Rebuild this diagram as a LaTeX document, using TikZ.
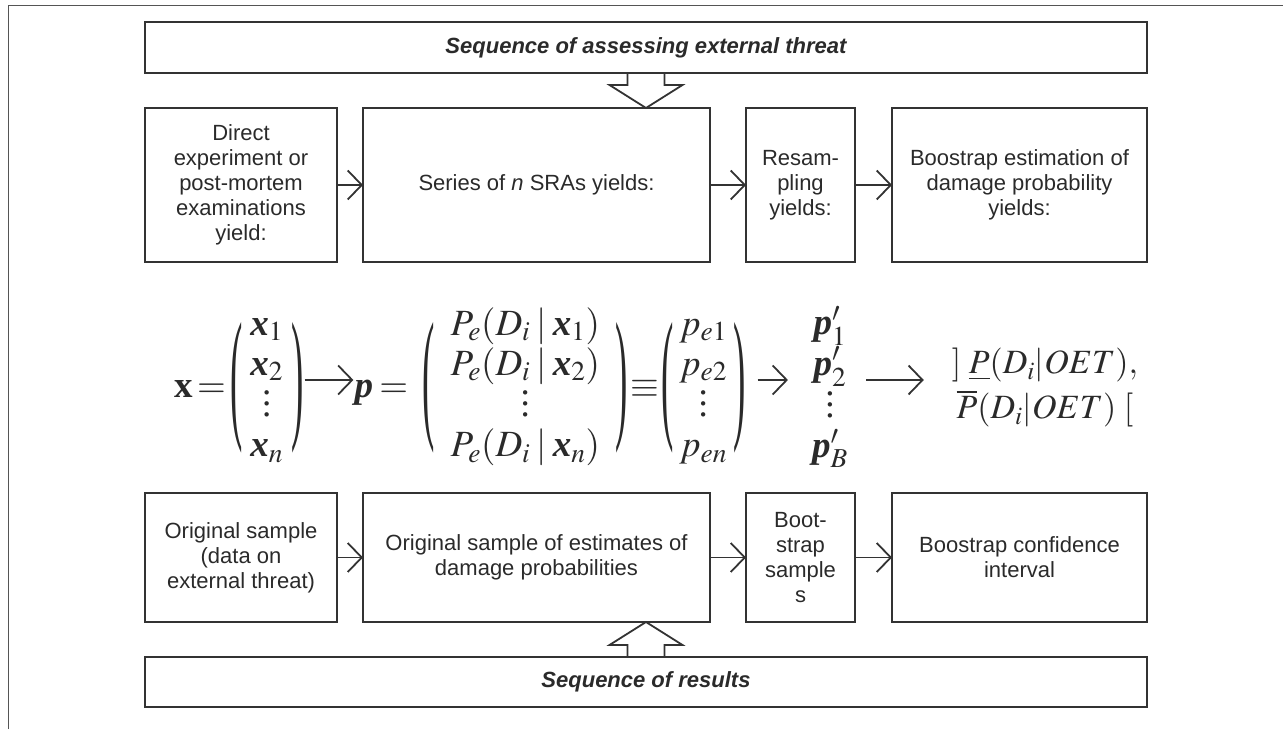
\documentclass[tikz,border=0pt]{standalone}
\usepackage{amsmath}
\usepackage{mathptmx}
\usepackage{graphicx}
\usepackage{fontspec}
\setmainfont{Liberation Serif}
\setsansfont{Liberation Sans}
\usepackage{xcolor}
\definecolor{diaInk}{HTML}{2A2A2A}
\definecolor{diaLine}{HTML}{333333}
\definecolor{diaFrame}{HTML}{555555}
\usetikzlibrary{arrows.meta,positioning,calc}
\newcommand{\bsym}[1]{\mbox{\bfseries\itshape #1}}
\newcommand{\tallvdots}{\vbox{\baselineskip=11pt \lineskiplimit=0pt \kern4pt\hbox{.}\hbox{.}\hbox{.}}}
\newcommand{\lpar}{\vcenter{\hbox{\raisebox{8pt}{\scalebox{1}[3.9]{(}}}}}
\newcommand{\rpar}{\vcenter{\hbox{\raisebox{8pt}{\scalebox{1}[3.9]{)}}}}}
\tikzset{
    block/.style={
        draw=diaLine,
        rectangle,
        line width=1.8pt,
        align=center,
        inner sep=0pt,
        outer sep=0pt,
        text=diaInk,
        font=\sffamily\fontsize{22}{25}\selectfont
    },
    rowbox/.style={
        block,
        minimum height=154pt
    },
    resbox/.style={
        block,
        minimum height=129pt
    },
    banner/.style={
        block,
        minimum width=1002pt,
        minimum height=51pt,
        font=\sffamily\bfseries\itshape\fontsize{22}{25}\selectfont
    },
    formula/.style={
        inner sep=1pt,
        text=diaInk,
        font=\fontsize{37}{40}\selectfont
    },
    arrow/.style={
        -{Straight Barb[length=14pt,width=29pt]},
        line width=1.8pt,
        draw=diaLine
    },
    hollow/.style={
        line width=1.8pt,
        draw=diaLine,
        line join=miter
    },
    outerframe/.style={
        line width=1pt,
        draw=diaFrame
    }
}

\begin{document}
\begin{tikzpicture}[x=1pt, y=1pt]
    \useasboundingbox (0,0) rectangle (1283,729);
    \draw[outerframe] (8,0) -- (8,723) -- (1283,723);

    % top banner and first row
    \node[banner] (threat) at (646,681.5) {Sequence of assessing external threat};
    \node[rowbox, minimum width=192pt] (direct) at (241,544) {Direct\\experiment or\\post-mortem\\examinations\\yield:};
    \node[rowbox, minimum width=347pt, right=26pt of direct] (series) {Series of \textit{n} SRAs yields:};
    \node[rowbox, minimum width=109pt, right=36pt of series] (resamp) {Resam-\\pling\\yields:};
    \node[rowbox, minimum width=255pt, right=37pt of resamp] (bestim) {Boostrap estimation of\\damage probability\\yields:};

    % formula row
    \node[formula] (xvec) at (239,341) {\setlength\arraycolsep{8pt}\thickmuskip=2mu
        $\mbox{\bfseries x}=\lpar\begin{array}{c}\bsym{x}_1\\ \bsym{x}_2\\ \tallvdots\\ \bsym{x}_n\end{array}\rpar$};
    \node[formula] (pvec) at (550,341) {\thickmuskip=3mu
        $\bsym{p}=\hspace{8pt}\begingroup\arraycolsep=16pt\lpar\begin{array}{c}P_e(D_i\mid\bsym{x}_1)\\ P_e(D_i\mid\bsym{x}_2)\\ \tallvdots\\ P_e(D_i\mid\bsym{x}_n)\end{array}\rpar\endgroup
        \!\equiv\!\begingroup\arraycolsep=6pt\lpar\begin{array}{c}p_{e1}\\ p_{e2}\\ \tallvdots\\ p_{en}\end{array}\rpar\endgroup$};
    \node[formula] (pprime) at (830,341) {$\begin{array}{c}\bsym{p}'_1\\ \bsym{p}'_2\\ \tallvdots\\ \bsym{p}'_B\end{array}$};
    \node[formula, align=center, font=\fontsize{34}{45}\selectfont] (interval) at (1045,341) {$]\;\underline{P}(D_i|OET),$\\$\overline{P}(D_i|OET)\;[$};

    % bottom row and banner
    \node[resbox, minimum width=192pt] (orig) at (241,171.5) {Original sample\\(data on\\external threat)};
    \node[resbox, minimum width=347pt, right=26pt of orig] (origest) {Original sample of estimates of\\damage probabilities};
    \node[resbox, minimum width=109pt, right=36pt of origest] (bsamp) {Boot-\\strap\\sample\\s};
    \node[resbox, minimum width=255pt, right=37pt of bsamp] (bconf) {Boostrap confidence\\interval};
    \node[banner, minimum height=50pt] (results) at (646,47) {Sequence of results};

    % connectors
    \draw[arrow] (direct) -- (series);
    \draw[arrow] (series) -- (resamp);
    \draw[arrow] (resamp) -- (bestim);
    \draw[arrow] ([yshift=8pt]xvec.east) -- ([yshift=8pt]pvec.west);
    \draw[arrow, shorten <=11pt, shorten >=18pt] ([yshift=8pt]pvec.east) -- ([yshift=8pt]pprime.west);
    \draw[arrow, shorten <=12pt, shorten >=27pt] ([yshift=8pt]pprime.east) -- ([yshift=8pt]interval.west);
    \draw[arrow] (orig) -- (origest);
    \draw[arrow] (origest) -- (bsamp);
    \draw[arrow] (bsamp) -- (bconf);

    % hollow block arrows
    \draw[hollow] ([xshift=-18.5pt]threat.south) -- ++(0,-12) -- ++(-18,0)
        -- (threat.south |- series.north) -- ++(36.5,23) -- ++(-18,0) -- ([xshift=18.5pt]threat.south);
    \draw[hollow] ([xshift=-18.5pt]results.north) -- ++(0,12) -- ++(-18,0)
        -- (results.north |- origest.south) -- ++(36.5,-23) -- ++(-18,0) -- ([xshift=18.5pt]results.north);
\end{tikzpicture}
\end{document}
